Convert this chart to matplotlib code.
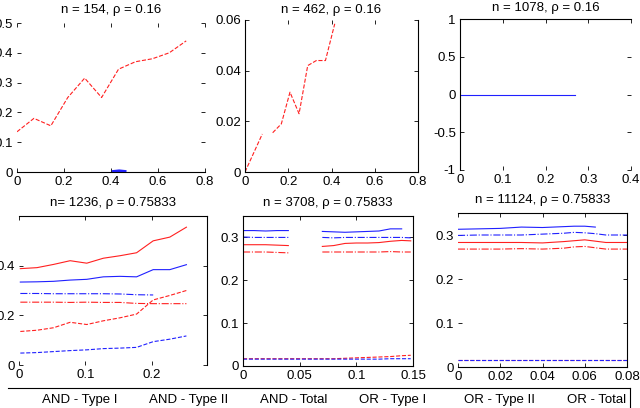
import numpy as np
import matplotlib
matplotlib.use("Agg")
import matplotlib.pyplot as plt
from matplotlib.ticker import FuncFormatter
from matplotlib.lines import Line2D

plt.rcParams['font.family'] = ['Liberation Sans', 'DejaVu Sans']
plt.rcParams['font.size'] = 9.5

# top row, rho = 0.16
tl_x = [0, 0.072, 0.144, 0.216, 0.288, 0.36, 0.432, 0.504, 0.576, 0.648, 0.72]
tl_red = [0.135, 0.18, 0.155, 0.25, 0.315, 0.25, 0.345, 0.37, 0.38, 0.40, 0.44]
tl_blue_x = [0.41, 0.435, 0.46]
tl_blue = [0.002, 0.004, 0.002]

tm_x = [0, 0.04, 0.08, 0.104, 0.128, 0.168, 0.208, 0.25, 0.29, 0.33, 0.372, 0.415]
tm_red = [0, 0.0075, 0.015, np.nan, 0.0155, 0.019, 0.0315, 0.023, 0.042, 0.044, 0.044, 0.0585]

tr_x = [0, 0.1, 0.2, 0.27]
tr_blue = [0, 0, 0, 0]

# bottom row, rho = 0.75833
bl_x = [0.002, 0.027, 0.052, 0.077, 0.102, 0.127, 0.152, 0.177, 0.202, 0.227, 0.252]
bl_and_t1 = [0.135, 0.14, 0.15, 0.172, 0.163, 0.178, 0.19, 0.205, 0.262, 0.28, 0.30]
bl_and_t2 = [0.253, 0.253, 0.253, 0.252, 0.253, 0.252, 0.252, 0.248, 0.247, 0.247, 0.247]
bl_and_tot = [0.388, 0.392, 0.405, 0.42, 0.41, 0.43, 0.44, 0.452, 0.50, 0.515, 0.555]
bl_or_t1 = [0.048, 0.05, 0.054, 0.058, 0.061, 0.066, 0.068, 0.071, 0.094, 0.104, 0.117]
bl_or_t2 = [0.288, 0.288, 0.287, 0.287, 0.287, 0.287, 0.286, 0.283, 0.282, np.nan, np.nan]
bl_or_tot = [0.334, 0.335, 0.337, 0.342, 0.345, 0.355, 0.357, 0.355, 0.384, 0.384, 0.404]

bm_x = [0, 0.01, 0.02, 0.03, 0.04, 0.05, 0.06, 0.07, 0.08, 0.09, 0.10, 0.11, 0.12, 0.13, 0.14, 0.148]
bm_and_t1 = [0.017, 0.017, 0.017, 0.017, 0.017, 0.017, 0.017, 0.017, 0.017, 0.018, 0.019, 0.020, 0.021, 0.022, 0.024, 0.025]
bm_and_t2 = [0.266, 0.266, 0.266, 0.265, 0.264, np.nan, np.nan, 0.266, 0.266, 0.266, 0.266, 0.266, 0.266, 0.267, 0.266, 0.266]
bm_and_tot = [0.283, 0.283, 0.283, 0.282, 0.281, np.nan, np.nan, 0.279, 0.281, 0.286, 0.287, 0.287, 0.288, 0.291, 0.293, 0.292]
bm_or_t1 = [0.016, 0.016, 0.016, 0.016, 0.016, 0.016, 0.016, 0.016, 0.016, 0.016, 0.016, 0.016, 0.016, 0.017, 0.017, 0.017]
bm_or_t2 = [0.301, 0.300, 0.300, 0.300, 0.300, np.nan, np.nan, 0.300, 0.299, 0.300, 0.300, 0.300, 0.300, 0.300, 0.300, 0.299]
bm_or_tot = [0.316, 0.316, 0.315, 0.316, 0.316, np.nan, np.nan, 0.314, 0.313, 0.312, 0.313, 0.314, 0.315, 0.320, 0.320, np.nan]

br_x = [0, 0.01, 0.02, 0.03, 0.04, 0.05, 0.055, 0.06, 0.065, 0.07, 0.08]
br_and_t1 = [0.017, 0.017, 0.017, 0.017, 0.017, 0.017, 0.017, 0.017, 0.017, 0.017, 0.017]
br_and_t2 = [0.268, 0.268, 0.268, 0.269, 0.268, 0.270, 0.273, 0.274, 0.271, 0.268, 0.268]
br_and_tot = [0.283, 0.283, 0.283, 0.283, 0.282, 0.285, 0.287, 0.289, 0.286, 0.283, 0.283]
br_or_t1 = [0.017, 0.017, 0.017, 0.017, 0.017, 0.017, 0.017, 0.017, 0.017, 0.017, 0.017]
br_or_t2 = [0.299, 0.300, 0.300, 0.300, 0.302, 0.304, 0.306, 0.305, 0.303, 0.300, 0.300]
br_or_tot = [0.313, 0.314, 0.315, 0.318, 0.317, 0.319, 0.320, 0.320, 0.318, np.nan, np.nan]

titles = ["n = 154, ρ = 0.16", "n = 462, ρ = 0.16", "n = 1078, ρ = 0.16",
          "n= 1236, ρ = 0.75833", "n = 3708, ρ = 0.75833", "n = 11124, ρ = 0.75833"]
legend_labels = ["AND - Type I", "AND - Type II", "AND - Total",
                 "OR - Type I", "OR - Type II", "OR - Total"]

W, H = 640, 408
fig = plt.figure(figsize=(W / 100, H / 100), dpi=100)


def add_ax(x0, x1, ytop, ybot):
    return fig.add_axes([x0 / W, 1 - ybot / H, (x1 - x0) / W, (ybot - ytop) / H])


def style(ax, xlim, ylim, xticks, yticks, title, spines, pad=7):
    ax.set_xlim(xlim)
    ax.set_ylim(ylim)
    ax.set_xticks(xticks)
    ax.set_yticks(yticks)
    fmt = FuncFormatter(lambda v, p: "%g" % round(v, 6))
    ax.xaxis.set_major_formatter(fmt)
    ax.yaxis.set_major_formatter(fmt)
    ax.tick_params(direction="in", length=3, width=0.6, top=True, right=True, pad=3)
    for s in ["top", "bottom", "left", "right"]:
        ax.spines[s].set_visible(s in spines)
        ax.spines[s].set_linewidth(0.8)
    ax.set_title(title, fontsize=9.5, pad=pad)
    ax.patch.set_alpha(0)


lw = 0.8
red = "#ff2020"
blue = "#2020ff"

ax1 = add_ax(17, 205, 23, 172)
ax1.plot(tl_x, tl_red, color=red, ls="--", lw=lw)
ax1.plot(tl_blue_x, tl_blue, color=blue, lw=2)
style(ax1, (0, 0.8), (0, 0.5), [0, 0.2, 0.4, 0.6, 0.8], [0, 0.1, 0.2, 0.3, 0.4, 0.5],
      titles[0], ["bottom"])

ax2 = add_ax(245, 418, 20, 172)
ax2.plot(tm_x, tm_red, color=red, ls="--", lw=lw)
style(ax2, (0, 0.8), (0, 0.06), [0, 0.2, 0.4, 0.6, 0.8], [0, 0.02, 0.04, 0.06],
      titles[1], ["bottom", "left", "right"], pad=5)

ax3 = add_ax(460, 631, 19, 170)
ax3.plot(tr_x, tr_blue, color=blue, lw=lw)
style(ax3, (0, 0.4), (-1, 1), [0, 0.1, 0.2, 0.3, 0.4], [-1, -0.5, 0, 0.5, 1],
      titles[2], ["top", "left"], pad=6)


def six(ax, x, a1, a2, at, o1, o2, ot):
    ax.plot(x, a1, color=red, ls="--", lw=lw)
    ax.plot(x, a2, color=red, ls="-.", lw=lw)
    ax.plot(x, at, color=red, ls="-", lw=lw)
    ax.plot(x, o1, color=blue, ls="--", lw=lw)
    ax.plot(x, o2, color=blue, ls="-.", lw=lw)
    ax.plot(x, ot, color=blue, ls="-", lw=lw)


ax4 = add_ax(19, 207, 216, 365)
six(ax4, bl_x, bl_and_t1, bl_and_t2, bl_and_tot, bl_or_t1, bl_or_t2, bl_or_tot)
style(ax4, (0, 0.283), (0, 0.6), [0, 0.1, 0.2], [0, 0.2, 0.4],
      titles[3], ["top", "right"])

ax5 = add_ax(243, 413, 216, 366)
six(ax5, bm_x, bm_and_t1, bm_and_t2, bm_and_tot, bm_or_t1, bm_or_t2, bm_or_tot)
style(ax5, (0, 0.15), (0, 0.35), [0, 0.05, 0.1, 0.15], [0, 0.1, 0.2, 0.3],
      titles[4], ["top", "bottom", "left", "right"])

ax6 = add_ax(458, 627, 213, 367)
six(ax6, br_x, br_and_t1, br_and_t2, br_and_tot, br_or_t1, br_or_t2, br_or_tot)
style(ax6, (0, 0.08), (0, 0.35), [0, 0.02, 0.04, 0.06, 0.08], [0, 0.1, 0.2, 0.3],
      titles[5], ["top", "bottom", "right"])

# legend strip along the bottom (only labels remain in the crop)
fig.add_artist(Line2D([8 / W, 630 / W], [1 - 388 / H, 1 - 388 / H], color="k", lw=0.8))
fig.add_artist(Line2D([630 / W, 630 / W], [1 - 388 / H, 0], color="k", lw=0.8))
centers = [80, 189, 294, 393, 500, 597]
for c, lab in zip(centers, legend_labels):
    fig.text(c / W, 1 - 400 / H, lab, ha="center", va="center", fontsize=9.5)

fig.savefig("out.png", dpi=100)
